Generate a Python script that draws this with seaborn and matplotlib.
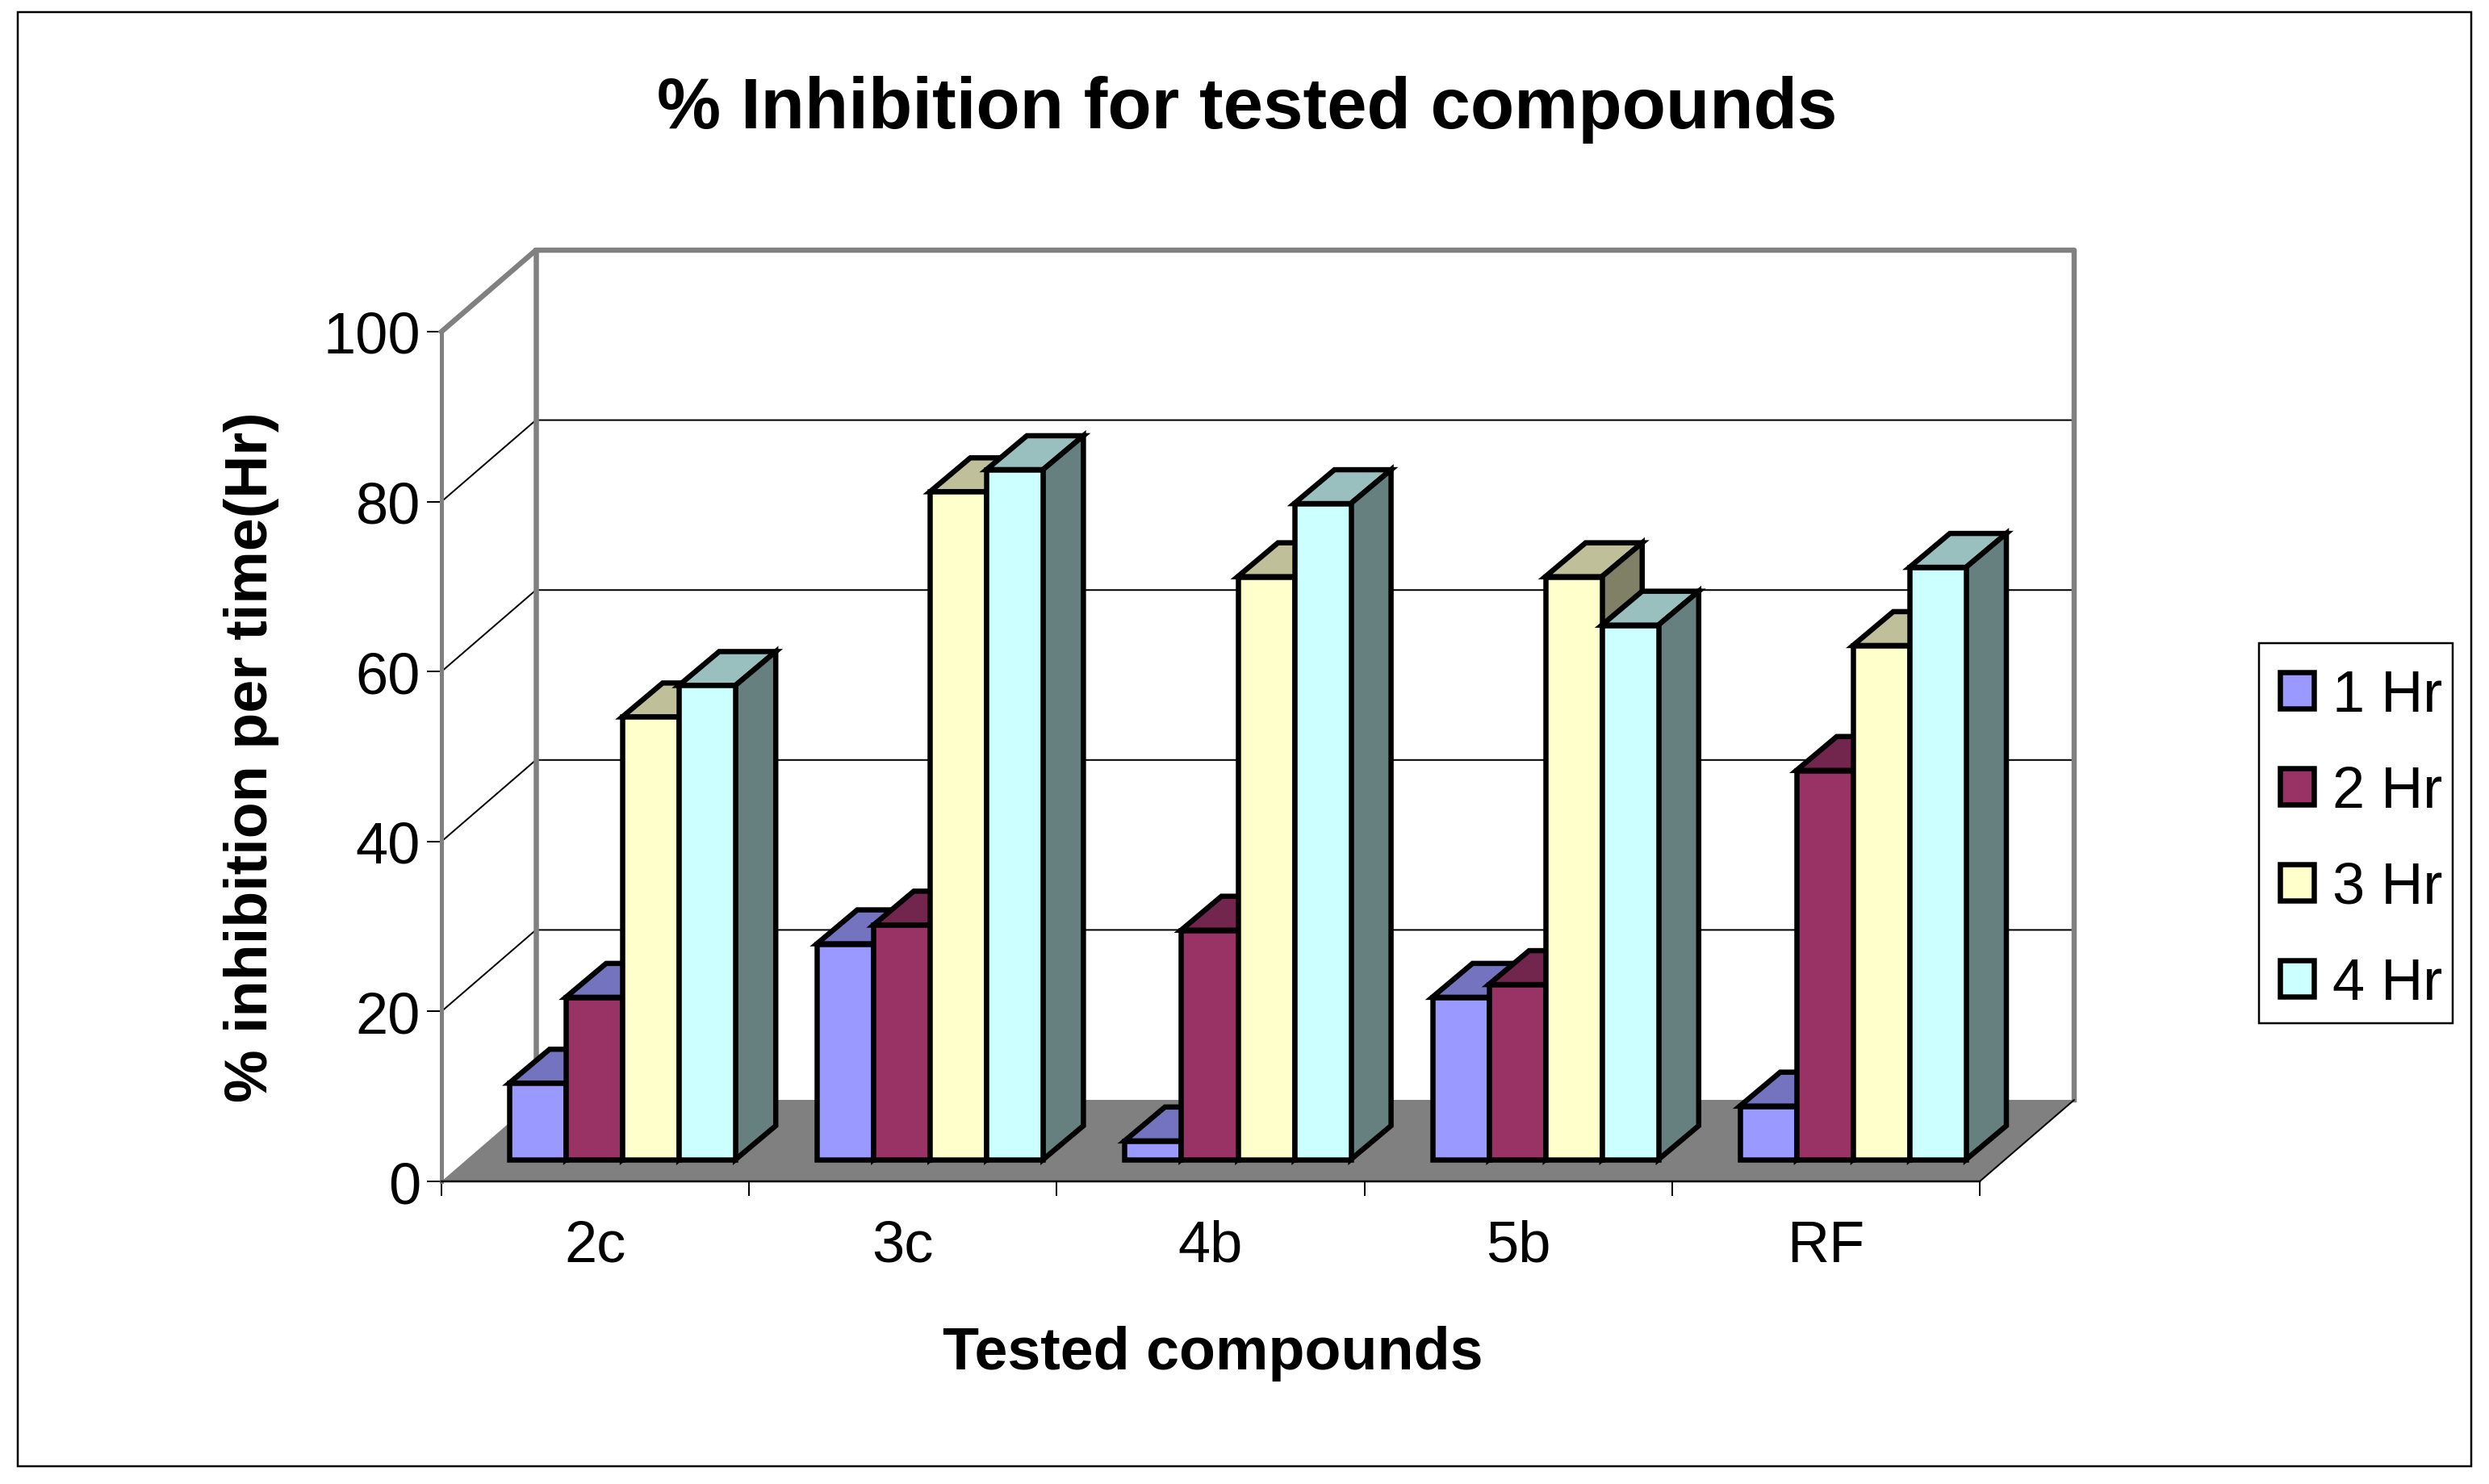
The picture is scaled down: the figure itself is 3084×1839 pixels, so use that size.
import pandas as pd
import seaborn as sns
import matplotlib.pyplot as plt
from matplotlib.patches import Polygon, Rectangle

# --- data ---
compounds = ["2c", "3c", "4b", "5b", "RF"]
times = ["1 Hr", "2 Hr", "3 Hr", "4 Hr"]
hr1 = [9.0, 25.4, 2.2, 19.1, 6.3]
hr2 = [19.1, 27.6, 27.0, 20.6, 45.8]
hr3 = [52.1, 78.6, 68.6, 68.6, 60.5]
hr4 = [55.8, 81.2, 77.2, 62.9, 69.7]

colors = ["#9999FF", "#993366", "#FFFFCC", "#CCFFFF"]
top_colors = ["#7373BF", "#73264D", "#BFBF99", "#99BFBF"]
side_colors = ["#4D4D80", "#4D1A33", "#808066", "#668080"]

df = pd.DataFrame({"Compound": compounds * 4,
                   "Time": [t for t in times for _ in compounds],
                   "Inhibition": hr1 + hr2 + hr3 + hr4})

W, H = 3084, 1840
px = 72 / 100  # one pixel in points at dpi=100

sns.set_style("white")
plt.rcParams["font.family"] = ["Liberation Sans", "DejaVu Sans"]
plt.rcParams["text.color"] = "black"
plt.rcParams["xtick.color"] = "black"
plt.rcParams["ytick.color"] = "black"

fig = plt.figure(figsize=(W / 100, H / 100), dpi=100, facecolor="white")
ax = fig.add_axes([547 / W, 1 - 1465 / H, (2453 - 547) / W, (1465 - 412) / H])

sns.barplot(data=df, x="Compound", y="Inhibition", hue="Time", palette=colors, hue_order=times,
            order=compounds, width=0.735, gap=0, saturation=1, edgecolor="black",
            linewidth=6.5 * px, ax=ax)

ax.set_xlim(-0.5, 4.5)
ax.set_ylim(0, 100)
ax.patch.set_visible(False)

# fake 3D offsets, in data units
wall_dx, wall_dy = 117 / 381.2, 101 / 10.53
bar_dx, bar_dy = 50 / 381.2, 42 / 10.53
shift_x, shift_y = 33.5 / 381.2, 27 / 10.53

# --- floor and walls ---
left, right = -0.5, 4.5
ax.add_patch(Polygon([(left, 0), (right, 0), (right + wall_dx, wall_dy), (left + wall_dx, wall_dy)],
                     facecolor="#808080", edgecolor="none", clip_on=False, zorder=1))
gray = dict(color="#808080", lw=6.5 * px, clip_on=False, zorder=1.5, solid_capstyle="projecting")
ax.plot([left, left + wall_dx, right + wall_dx, right + wall_dx],
        [100, 100 + wall_dy, 100 + wall_dy, wall_dy], **gray)
ax.plot([left + wall_dx, left + wall_dx], [wall_dy, 100 + wall_dy], **gray)

for v in [20, 40, 60, 80]:
    ax.plot([left, left + wall_dx, right + wall_dx], [v, v + wall_dy, v + wall_dy],
            color="black", lw=2 * px, clip_on=False, zorder=1.2)
ax.plot([right, right + wall_dx], [0, wall_dy], color="black", lw=2 * px, clip_on=False, zorder=1.6)

# --- turn the flat bars into boxes ---
bars = [b for b in ax.patches if isinstance(b, Rectangle) and b.get_height() > 0]
bars = sorted(bars, key=lambda b: b.get_x())
for i, bar in enumerate(bars):
    hue_i = times.index(df.loc[(df["Inhibition"] == bar.get_height()), "Time"].iloc[0])
    bar.set_x(bar.get_x() + shift_x)
    bar.set_y(shift_y)
    x0, x1 = bar.get_x(), bar.get_x() + bar.get_width()
    y0, y1 = shift_y, shift_y + bar.get_height()
    z = 3 + i * 0.1
    bar.set_zorder(z + 0.02)
    bar.set_joinstyle("miter")
    top = Polygon([(x0, y1), (x0 + bar_dx, y1 + bar_dy), (x1 + bar_dx, y1 + bar_dy), (x1, y1)],
                  facecolor=top_colors[hue_i], edgecolor="black", lw=6.5 * px, zorder=z, clip_on=False)
    side = Polygon([(x1, y0), (x1 + bar_dx, y0 + bar_dy), (x1 + bar_dx, y1 + bar_dy), (x1, y1)],
                   facecolor=side_colors[hue_i], edgecolor="black", lw=6.5 * px, zorder=z, clip_on=False)
    ax.add_patch(top)
    ax.add_patch(side)

# --- axes ---
sns.despine(ax=ax, top=True, right=True)
ax.spines["left"].set_color("#808080")
ax.spines["left"].set_linewidth(5 * px)
ax.spines["left"].set_zorder(1.5)
ax.spines["bottom"].set_color("black")
ax.spines["bottom"].set_linewidth(2.5 * px)

ax.set_yticks([0, 20, 40, 60, 80, 100])
ax.set_xticks(range(5))
ax.set_xticklabels(compounds)
ax.set_xticks([-0.5, 0.5, 1.5, 2.5, 3.5, 4.5], minor=True)
ax.tick_params(axis="y", which="major", left=True, length=18 * px, width=2 * px, color="black",
               labelsize=52, pad=8 * px)
ax.tick_params(axis="x", which="major", bottom=False, labelsize=52, pad=42 * px)
ax.tick_params(axis="x", which="minor", bottom=True, length=18 * px, width=2 * px, color="black")

ax.set_xlabel("")
ax.set_ylabel("")
fig.text(1503 / W, 1 - 1678 / H, "Tested compounds", fontsize=53, fontweight="bold",
         ha="center", va="center")
fig.text(311 / W, 1 - 938 / H, "% inhibition per time(Hr)", fontsize=53, fontweight="bold",
         rotation=90, ha="center", va="center")
fig.text(1545 / W, 1 - 136 / H, "% Inhibition for tested compounds", fontsize=64, fontweight="bold",
         ha="center", va="center")

# --- legend ---
leg = ax.legend(title=None, loc="center left", bbox_to_anchor=(2825 / W, 1 - 1042 / H),
                bbox_transform=fig.transFigure, fontsize=52, frameon=False,
                handlelength=0.58, handleheight=0.6,
                handletextpad=0.32, labelspacing=0.72, borderpad=0, borderaxespad=0)
fig.add_artist(Rectangle((2799 / W, 1 - 1269 / H), (3039 - 2799) / W, (1269 - 798) / H,
                         transform=fig.transFigure, facecolor="none", edgecolor="black", lw=2.5 * px))

# outer frame
fig.add_artist(Rectangle((22 / W, 1 - 1818 / H), (3062 - 22) / W, (1818 - 16) / H, transform=fig.transFigure,
                         facecolor="none", edgecolor="black", lw=2.5 * px))

fig.savefig("out.png", dpi=100)
